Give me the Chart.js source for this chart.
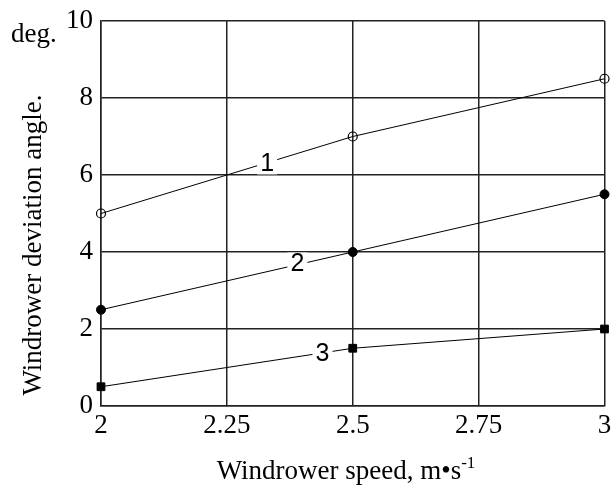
<!DOCTYPE html>
<html>
<head>
<meta charset="utf-8">
<script src="https://cdn.jsdelivr.net/npm/chart.js@4"></script>
<style>
  html, body { margin: 0; padding: 0; background: #fff; }
  #wrap { width: 611px; height: 489px; }
</style>
</head>
<body>
<div id="wrap"><canvas id="chart" width="611" height="489"></canvas></div>
<script>
var speeds = [2, 2.5, 3];
var curve1 = [5, 7, 8.5];
var curve2 = [2.5, 4, 5.5];
var curve3 = [0.5, 1.5, 2];
var xTicks = [2, 2.25, 2.5, 2.75, 3];
var yTicks = [0, 2, 4, 6, 8, 10];
var curveNames = ['1', '2', '3'];
var nameX = [2.33, 2.39, 2.44];
var nameY = [6.3, 3.7, 1.38];

function pts(ys) {
  return speeds.map(function (x, i) { return { x: x, y: ys[i] }; });
}

var serif = '"Liberation Serif", "Times New Roman", serif';

// text that is not a tick: axis titles and the curve numbers
var extraText = {
  id: 'extraText',
  afterDatasetsDraw: function (chart) {
    var ctx = chart.ctx;
    var xs = chart.scales.x, ys = chart.scales.y;
    ctx.save();
    // curve numbers on the lines
    ctx.font = '25px "Liberation Sans", Arial, sans-serif';
    ctx.textAlign = 'center';
    ctx.textBaseline = 'middle';
    for (var i = 0; i < curveNames.length; i++) {
      var px = xs.getPixelForValue(nameX[i]);
      var py = ys.getPixelForValue(nameY[i]);
      ctx.fillStyle = '#fff';
      ctx.fillRect(px - 10, py - 11, 20, 22);
      ctx.fillStyle = '#000';
      ctx.fillText(curveNames[i], px, py + 1);
    }
    // deg.
    ctx.font = '27px ' + serif;
    ctx.textAlign = 'left';
    ctx.textBaseline = 'alphabetic';
    ctx.fillText('deg.', 11, 42);
    // y title
    ctx.save();
    ctx.translate(34, 245);
    ctx.rotate(-Math.PI / 2);
    ctx.textAlign = 'center';
    ctx.textBaseline = 'middle';
    ctx.fillText('Windrower deviation angle.', 0, 0);
    ctx.restore();
    // x title with superscript
    var main = 'Windrower speed, m\u2022s';
    ctx.font = '27px ' + serif;
    var w1 = ctx.measureText(main).width;
    ctx.font = '17px ' + serif;
    var w2 = ctx.measureText('-1').width;
    var start = 346 - (w1 + w2) / 2;
    ctx.font = '27px ' + serif;
    ctx.fillText(main, start, 479);
    ctx.font = '17px ' + serif;
    ctx.fillText('-1', start + w1, 468);
    ctx.restore();
  }
};

var config = {
  type: 'line',
  data: {
    datasets: [
      {
        label: '1',
        data: pts(curve1),
        borderColor: '#000',
        borderWidth: 1,
        pointStyle: 'circle',
        pointRadius: 4.5,
        pointBackgroundColor: 'rgba(0,0,0,0)',
        pointBorderColor: '#000',
        pointBorderWidth: 1.2
      },
      {
        label: '2',
        data: pts(curve2),
        borderColor: '#000',
        borderWidth: 1,
        pointStyle: 'circle',
        pointRadius: 4.5,
        pointBackgroundColor: '#000',
        pointBorderColor: '#000'
      },
      {
        label: '3',
        data: pts(curve3),
        borderColor: '#000',
        borderWidth: 1,
        pointStyle: 'rect',
        pointRadius: 5.5,
        pointBackgroundColor: '#000',
        pointBorderColor: '#000'
      }
    ]
  },
  options: {
    responsive: false,
    animation: false,
    clip: false,
    layout: { padding: { top: 21, right: 4, left: 0, bottom: 0 } },
    plugins: { legend: { display: false }, tooltip: { enabled: false } },
    scales: {
      x: {
        type: 'linear',
        min: 2,
        max: 3,
        afterBuildTicks: function (s) { s.ticks = xTicks.map(function (v) { return { value: v }; }); },
        afterFit: function (s) { s.height = 83; s.paddingRight = 0; s.paddingLeft = 0; },
        grid: { color: '#222', lineWidth: 1.5, drawTicks: false },
        border: { color: '#222', width: 1.5 },
        ticks: {
          color: '#000',
          padding: 4,
          maxRotation: 0,
          font: { family: serif, size: 27 },
          callback: function (v) { return String(v); }
        }
      },
      y: {
        min: 0,
        max: 10,
        afterBuildTicks: function (s) { s.ticks = yTicks.map(function (v) { return { value: v }; }); },
        afterFit: function (s) { s.width = 101; s.paddingTop = 0; s.paddingBottom = 0; },
        grid: { color: '#222', lineWidth: 1.5, drawTicks: false },
        border: { color: '#222', width: 1.5 },
        ticks: {
          color: '#000',
          padding: 8,
          font: { family: serif, size: 27 },
          callback: function (v) { return String(v); }
        }
      }
    }
  },
  plugins: [extraText]
};

var myChart = new Chart(document.getElementById('chart'), config);
</script>
</body>
</html>
